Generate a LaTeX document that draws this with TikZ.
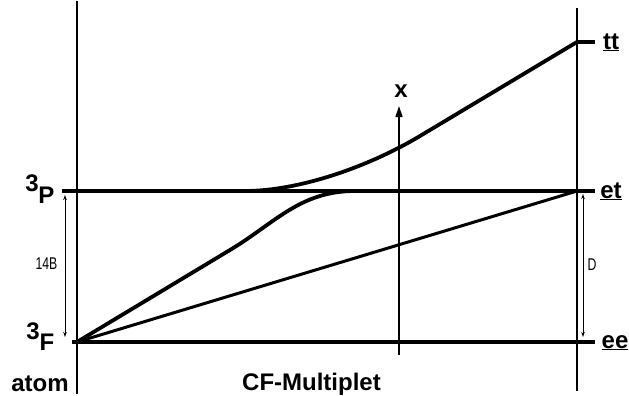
\documentclass[tikz,border=0pt]{standalone}
\usepackage{fontspec}
\setmainfont{Liberation Sans}
\usetikzlibrary{arrows.meta}
\begin{document}
\begin{tikzpicture}[x=1pt,y=-1pt,
  axisline/.style={line width=2.4pt},
  levelline/.style={line width=3.6pt},
  curveline/.style={line width=3.8pt},
  diagline/.style={line width=3pt},
  gaparrow/.style={line width=0.9pt,{Stealth[length=5pt,width=3.5pt]}-{Stealth[length=5pt,width=3.5pt]}},
  xarrow/.style={line width=1.4pt,-{Triangle[length=11pt,width=7pt]}},
  biglab/.style={font=\fontsize{24}{24}\selectfont\bfseries,inner sep=0pt},
  smalllab/.style={font=\fontsize{17}{17}\selectfont,inner sep=0pt,xscale=0.72}]
\useasboundingbox (0,0) rectangle (629,396);
% coordinates
\coordinate (Ltop) at (77,1);
\coordinate (Lbot) at (77,394);
\coordinate (Rtop) at (577,8);
\coordinate (Rbot) at (577,391);
\coordinate (Pl) at (62,191);
\coordinate (Pr) at (595,191);
\coordinate (Fl) at (72,342);
\coordinate (Fr) at (595,342);
\coordinate (F) at (77,342);
\coordinate (et) at (577,191);
\coordinate (tt) at (577,42);
\coordinate (ttr) at (595,42);
\coordinate (xb) at (399,355);
\coordinate (xt) at (399,106);
\coordinate (Ba) at (65,195);
\coordinate (Bb) at (65,337);
\coordinate (Da) at (583,194);
\coordinate (Db) at (583,337);
% verticals
\draw[axisline] (Ltop) -- (Lbot);
\draw[axisline] (Rtop) -- (Rbot);
% levels
\draw[levelline] (Pl) -- (Pr);
\draw[levelline] (Fl) -- (Fr);
\draw[levelline] (tt) -- (ttr);
% curves
\coordinate (U0) at (245,191);
\coordinate (U1) at (420,136);
\draw[curveline] (U0) .. controls (300,191) and (370,166) .. (U1) -- (tt);
\coordinate (W0) at (230,250);
\coordinate (W1) at (355,191);
\draw[curveline] (F) -- (W0) .. controls (275,223) and (300,191) .. (W1);
\draw[diagline] (F) -- (et);
% x axis
\draw[xarrow] (xb) -- (xt);
% gap arrows
\draw[gaparrow] (Ba) -- (Bb);
\draw[gaparrow] (Da) -- (Db);
% labels
\node[biglab] (l3P) at (32,183) {3};
\node[biglab] (lP) at (46.5,195) {P};
\node[biglab] (l3F) at (33,331) {3};
\node[biglab] (lF) at (47,342) {F};
\node[biglab,anchor=base] (latom) at (40,391) {atom};
\node[biglab,anchor=base] (lcf) at (311.5,390) {CF-Multiplet};
\node[biglab,anchor=base] (ltt) at (611,49) {\underline{tt}};
\node[biglab,anchor=base] (let) at (611,198) {\underline{et}};
\node[biglab,anchor=base] (lee) at (615,348) {\underline{ee}};
\node[biglab] (lx) at (401,91) {x};
\node[smalllab] (l14B) at (46.5,263.5) {14B};
\node[smalllab] (lD) at (592,265) {D};
\end{tikzpicture}
\end{document}
